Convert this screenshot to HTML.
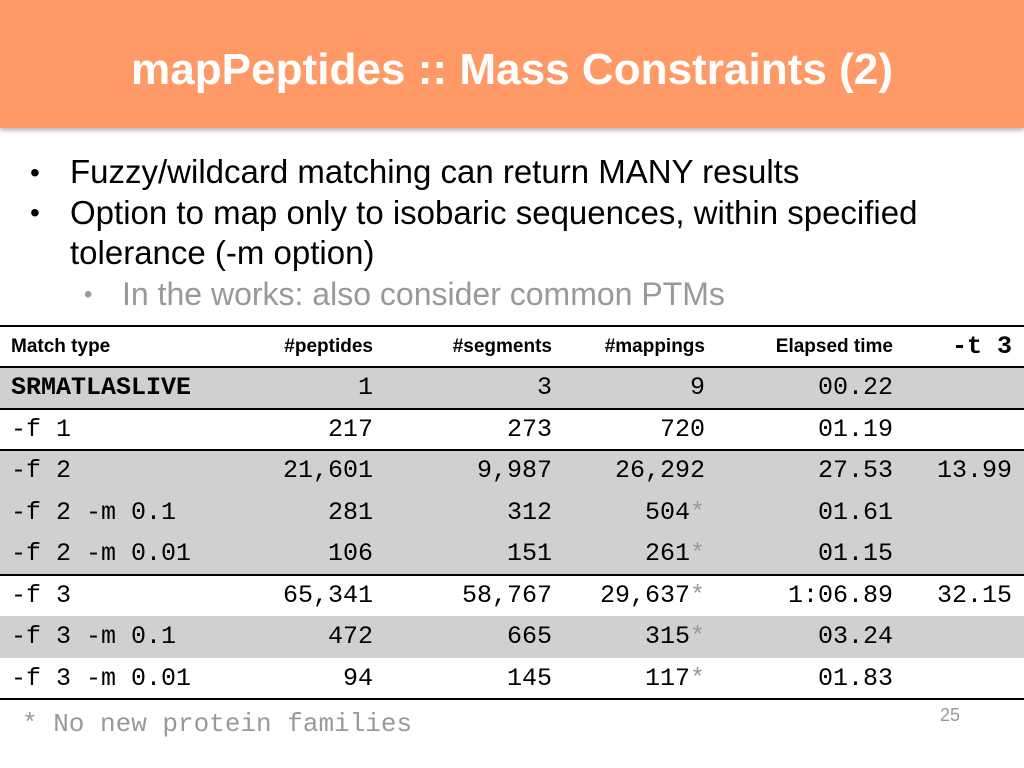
<!DOCTYPE html>
<html><head><meta charset="utf-8"><style>
body{margin:0;width:1024px;height:768px;background:#fff;position:relative;overflow:hidden;font-family:"Liberation Sans",sans-serif}
.hdr{position:absolute;left:0;top:0;width:1024px;height:128px;background:#FF9966;box-shadow:0 3px 4px rgba(0,0,0,.25)}
.b{position:absolute;font-size:33px;color:#000;white-space:nowrap;line-height:40px}
.dot{position:absolute;font-size:28px;line-height:40px}
.row{position:absolute;left:0;width:1024px;height:42px}
.c{position:absolute;top:0;line-height:41px;font-family:"Liberation Mono",monospace;font-size:25px;white-space:nowrap}
.h{font-family:"Liberation Sans",sans-serif;font-weight:bold;font-size:19px}
.r{text-align:right}
.line{position:absolute;left:0;width:1024px;height:2px;background:#000}
.s{color:#999}
</style></head><body>
<div class="hdr">
<svg width="1024" height="128"><text x="512" y="84" text-anchor="middle" textLength="762" lengthAdjust="spacingAndGlyphs" font-family="Liberation Sans" font-weight="bold" font-size="44" fill="#fff">mapPeptides :: Mass Constraints (2)</text></svg>
</div>
<div class="dot" style="left:30px;top:153px">•</div>
<div class="b" style="left:70px;top:152px">Fuzzy/wildcard matching can return MANY results</div>
<div class="dot" style="left:30px;top:193px">•</div>
<div class="b" style="left:70px;top:193px">Option to map only to isobaric sequences, within specified</div>
<div class="b" style="left:70px;top:233px">tolerance (-m option)</div>
<div class="dot" style="left:84px;top:275px;color:#999;font-size:24px">•</div>
<div class="b" style="left:122px;top:274px;color:#999;font-size:32px">In the works: also consider common PTMs</div>
<div id="tbl"></div>
<div style="position:absolute;left:22px;top:709px;font-family:'Liberation Mono',monospace;font-size:26px;color:#999">* No new protein families</div>
<div style="position:absolute;left:940px;top:705px;font-size:18px;color:#999">25</div>
<script>
const rows=[
["SRMATLASLIVE","1","3","9","00.22","",1],
["-f 1","217","273","720","01.19","",0],
["-f 2","21,601","9,987","26,292","27.53","13.99",1],
["-f 2 -m 0.1","281","312","504*","01.61","",1],
["-f 2 -m 0.01","106","151","261*","01.15","",1],
["-f 3","65,341","58,767","29,637*","1:06.89","32.15",0],
["-f 3 -m 0.1","472","665","315*","03.24","",1],
["-f 3 -m 0.01","94","145","117*","01.83","",0]];
const rights=[373,552,705,893,1012];
const tbl=document.getElementById('tbl');
function fmt(v){return v.endsWith('*')?v.slice(0,-1)+'<span class="s">*</span>':v;}
const hr=document.createElement('div');hr.className='row';hr.style.top='326px';


const heads=['#peptides','#segments','#mappings','Elapsed time'];
let html='<div class="c h" style="left:11px">Match type</div>';
heads.forEach((h,i)=>{html+='<div class="c h r" style="right:'+(1024-rights[i])+'px">'+h+'</div>';});
html+='<div class="c r" style="right:12px;font-weight:bold">-t 3</div>';
hr.innerHTML=html;tbl.appendChild(hr);
rows.forEach((r,k)=>{
 const d=document.createElement('div');d.className='row';
 d.style.top=(367+k*41.5)+'px';d.style.background=r[6]?'#d0d0d0':'#fff';
 
 
 let s='<div class="c" style="left:11px;'+(k==0?'font-weight:bold':'')+'">'+r[0]+'</div>';
 for(let i=1;i<=5;i++) s+='<div class="c r" style="right:'+(1024-rights[i-1])+'px">'+fmt(r[i])+'</div>';
 d.innerHTML=s;tbl.appendChild(d);
});
[325,366,408,449,574,698].forEach(y=>{const l=document.createElement('div');l.className='line';l.style.top=y+'px';l.style.height='1.5px';


tbl.appendChild(l);});
</script>
</body></html>
